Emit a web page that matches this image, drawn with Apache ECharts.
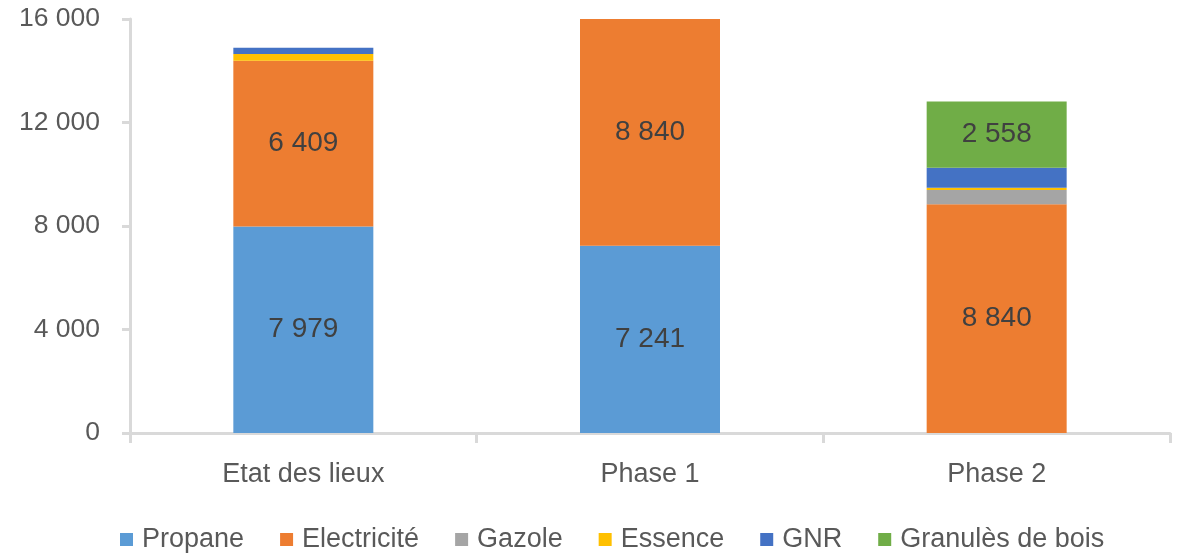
<!DOCTYPE html>
<html>
<head>
<meta charset="utf-8">
<script src="https://cdn.jsdelivr.net/npm/echarts@6/dist/echarts.min.js"></script>
<style>
html, body { margin: 0; padding: 0; background: #fff; }
#chart { width: 1180px; height: 555px; }
</style>
</head>
<body>
<div id="chart"></div>
<script>
var categories = ['Etat des lieux', 'Phase 1', 'Phase 2'];
var propane = [7979, 7241, 0];
var electricite = [6409, 8840, 8840];
var gazole = [0, 0, 550];
var essence = [260, 0, 90];
var gnr = [240, 0, 770];
var granules = [0, 0, 2558];
var yTicks = [0, 4000, 8000, 12000, 16000];

function fmt(v) {
	return String(v).replace(/\B(?=(\d{3})+(?!\d))/g, ' ');
}

var font = 'Liberation Sans';
var chart = echarts.init(document.getElementById('chart'));

function serie(name, data, color, showLabel) {
	return {
		name: name,
		type: 'bar',
		stack: 'total',
		barWidth: 140,
		clip: true,
		data: data,
		itemStyle: { color: color },
		label: {
			show: showLabel,
			position: 'inside',
			color: '#404040',
			fontFamily: font,
			fontSize: 28,
			formatter: function (p) { return p.value ? fmt(p.value) : ''; }
		}
	};
}

chart.setOption({
	animation: false,
	grid: { left: 130, right: 10, top: 19, bottom: 122 },
	legend: {
		top: 521,
		left: 115,
		itemWidth: 13,
		itemHeight: 13,
		itemGap: 36,
		icon: 'rect',
		textStyle: { color: '#595959', fontFamily: font, fontSize: 27, padding: [0, 0, 0, 4] },
		data: ['Propane', 'Electricité', 'Gazole', 'Essence', 'GNR', 'Granulès de bois']
	},
	xAxis: {
		type: 'category',
		data: categories,
		axisLine: { lineStyle: { color: '#D9D9D9', width: 3 } },
		axisTick: { show: true, length: 10, lineStyle: { color: '#D9D9D9', width: 3 } },
		axisLabel: { color: '#595959', fontFamily: font, fontSize: 27, margin: 28 }
	},
	yAxis: {
		type: 'value',
		min: yTicks[0],
		max: yTicks[yTicks.length - 1],
		interval: 4000,
		splitLine: { show: false },
		axisLine: { show: true, lineStyle: { color: '#D9D9D9', width: 3 } },
		axisTick: { show: true, length: 8, lineStyle: { color: '#D9D9D9', width: 3 } },
		axisLabel: { color: '#595959', fontFamily: font, fontSize: 26.5, margin: 30, formatter: fmt }
	},
	series: [
		serie('Propane', propane, '#5B9BD5', true),
		serie('Electricité', electricite, '#ED7D31', true),
		serie('Gazole', gazole, '#A5A5A5', false),
		serie('Essence', essence, '#FFC000', false),
		serie('GNR', gnr, '#4472C4', false),
		serie('Granulès de bois', granules, '#70AD47', true)
	]
});
</script>
</body>
</html>
